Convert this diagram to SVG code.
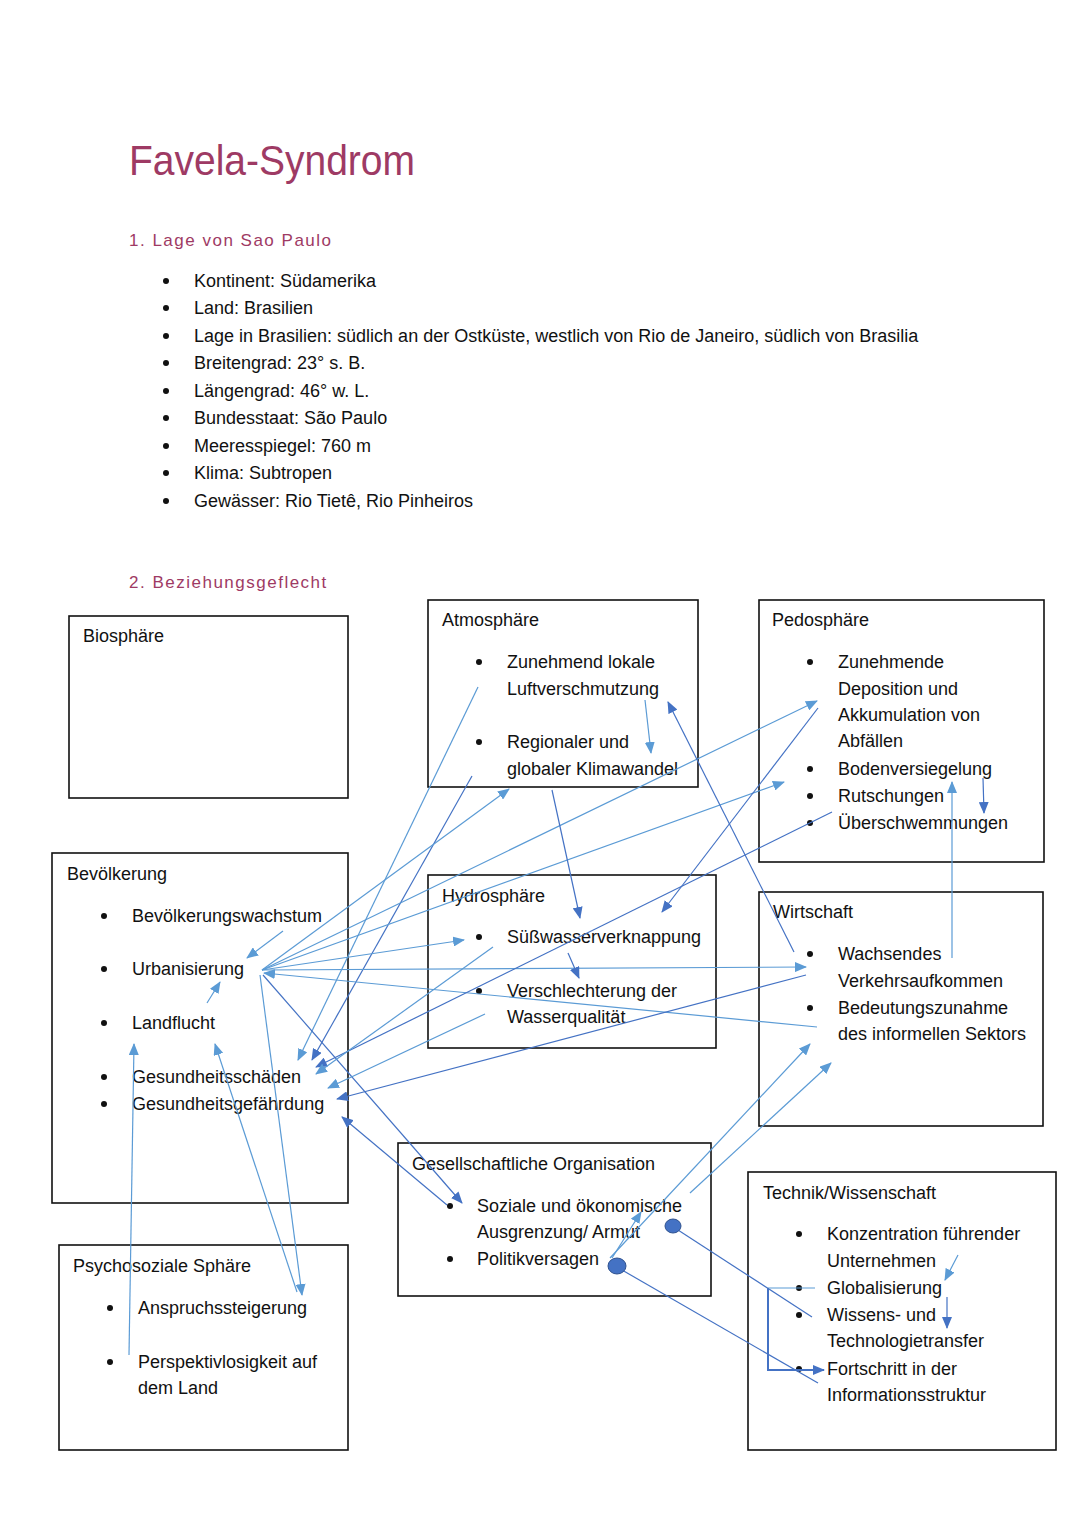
<svg xmlns="http://www.w3.org/2000/svg" width="1080" height="1527" viewBox="0 0 1080 1527">
<style>
text{font-family:"Liberation Sans",Arial,sans-serif;font-size:18px;fill:#111}
.title{font-size:42px;fill:#9E3A64}
.h{font-size:17px;fill:#9E3A64;letter-spacing:1.5px}
.box{fill:#fff;stroke:#111;stroke-width:1.6}
.b{fill:#111}
.c{fill:none;stroke:#5B9BD5;stroke-width:1.2}
.d{fill:none;stroke:#4472C4;stroke-width:1.2}
.a1{marker-end:url(#ml)}
.a2{marker-end:url(#md)}
.dot{fill:#4472C4;stroke:#2F528F;stroke-width:1}
</style>
<defs>
<marker id="ml" markerUnits="userSpaceOnUse" markerWidth="12" markerHeight="10" refX="11" refY="5" orient="auto"><path d="M0,0 L12,5 L0,10 z" fill="#5B9BD5"/></marker>
<marker id="md" markerUnits="userSpaceOnUse" markerWidth="12" markerHeight="10" refX="11" refY="5" orient="auto"><path d="M0,0 L12,5 L0,10 z" fill="#4472C4"/></marker>
</defs>
<rect width="1080" height="1527" fill="#fff"/>
<g id="header">
<text class="title" x="129" y="175" textLength="286" lengthAdjust="spacingAndGlyphs">Favela-Syndrom</text>
<text class="h" x="129" y="246">1. Lage von Sao Paulo</text>
<g class="b"><circle cx="166" cy="281" r="3"/><circle cx="166" cy="308" r="3"/><circle cx="166" cy="336" r="3"/><circle cx="166" cy="363" r="3"/><circle cx="166" cy="391" r="3"/><circle cx="166" cy="418" r="3"/><circle cx="166" cy="446" r="3"/><circle cx="166" cy="473" r="3"/><circle cx="166" cy="501" r="3"/></g>
<text x="194" y="287">Kontinent: Südamerika</text>
<text x="194" y="314">Land: Brasilien</text>
<text x="194" y="342">Lage in Brasilien: südlich an der Ostküste, westlich von Rio de Janeiro, südlich von Brasilia</text>
<text x="194" y="369">Breitengrad: 23° s. B.</text>
<text x="194" y="397">Längengrad: 46° w. L.</text>
<text x="194" y="424">Bundesstaat: São Paulo</text>
<text x="194" y="452">Meeresspiegel: 760 m</text>
<text x="194" y="479">Klima: Subtropen</text>
<text x="194" y="507">Gewässer: Rio Tietê, Rio Pinheiros</text>
<text class="h" x="129" y="588">2. Beziehungsgeflecht</text>
</g>
<g id="biosphaere">
<rect class="box" x="69" y="616" width="279" height="182"/>
<text x="83" y="642">Biosphäre</text>
</g>
<g id="atmosphaere">
<rect class="box" x="428" y="600" width="270" height="187"/>
<text x="442" y="626">Atmosphäre</text>
<circle class="b" cx="479" cy="662" r="3"/><circle class="b" cx="479" cy="742" r="3"/>
<text x="507" y="668">Zunehmend lokale</text>
<text x="507" y="695">Luftverschmutzung</text>
<text x="507" y="748">Regionaler und</text>
<text x="507" y="775">globaler Klimawandel</text>
</g>
<g id="pedosphaere">
<rect class="box" x="759" y="600" width="285" height="262"/>
<text x="772" y="626">Pedosphäre</text>
<circle class="b" cx="810" cy="662" r="3"/><circle class="b" cx="810" cy="769" r="3"/><circle class="b" cx="810" cy="796" r="3"/><circle class="b" cx="810" cy="823" r="3"/>
<text x="838" y="668">Zunehmende</text>
<text x="838" y="695">Deposition und</text>
<text x="838" y="721">Akkumulation von</text>
<text x="838" y="747">Abfällen</text>
<text x="838" y="775">Bodenversiegelung</text>
<text x="838" y="802">Rutschungen</text>
<text x="838" y="829">Überschwemmungen</text>
</g>
<g id="bevoelkerung">
<rect class="box" x="52" y="853" width="296" height="350"/>
<text x="67" y="880">Bevölkerung</text>
<circle class="b" cx="104" cy="916" r="3"/><circle class="b" cx="104" cy="969" r="3"/><circle class="b" cx="104" cy="1023" r="3"/><circle class="b" cx="104" cy="1077" r="3"/><circle class="b" cx="104" cy="1104" r="3"/>
<text x="132" y="922">Bevölkerungswachstum</text>
<text x="132" y="975">Urbanisierung</text>
<text x="132" y="1029">Landflucht</text>
<text x="132" y="1083">Gesundheitsschäden</text>
<text x="132" y="1110">Gesundheitsgefährdung</text>
</g>
<g id="hydrosphaere">
<rect class="box" x="428" y="875" width="288" height="173"/>
<text x="442" y="902">Hydrosphäre</text>
<circle class="b" cx="479" cy="937" r="3"/><circle class="b" cx="479" cy="991" r="3"/>
<text x="507" y="943">Süßwasserverknappung</text>
<text x="507" y="997">Verschlechterung der</text>
<text x="507" y="1023">Wasserqualität</text>
</g>
<g id="wirtschaft">
<rect class="box" x="759" y="892" width="284" height="234"/>
<text x="773" y="918">Wirtschaft</text>
<circle class="b" cx="810" cy="954" r="3"/><circle class="b" cx="810" cy="1008" r="3"/>
<text x="838" y="960">Wachsendes</text>
<text x="838" y="987">Verkehrsaufkommen</text>
<text x="838" y="1014">Bedeutungszunahme</text>
<text x="838" y="1040">des informellen Sektors</text>
</g>
<g id="gesellschaft">
<rect class="box" x="398" y="1143" width="313" height="153"/>
<text x="412" y="1170">Gesellschaftliche Organisation</text>
<circle class="b" cx="450" cy="1206" r="3"/><circle class="b" cx="450" cy="1259" r="3"/>
<text x="477" y="1212">Soziale und ökonomische</text>
<text x="477" y="1238">Ausgrenzung/ Armut</text>
<text x="477" y="1265">Politikversagen</text>
</g>
<g id="technik">
<rect class="box" x="748" y="1172" width="308" height="278"/>
<text x="763" y="1199">Technik/Wissenschaft</text>
<circle class="b" cx="799" cy="1234" r="3"/><circle class="b" cx="799" cy="1288" r="3"/><circle class="b" cx="799" cy="1315" r="3"/><circle class="b" cx="799" cy="1369" r="3"/>
<text x="827" y="1240">Konzentration führender</text>
<text x="827" y="1267">Unternehmen</text>
<text x="827" y="1294">Globalisierung</text>
<text x="827" y="1321">Wissens- und</text>
<text x="827" y="1347">Technologietransfer</text>
<text x="827" y="1375">Fortschritt in der</text>
<text x="827" y="1401">Informationsstruktur</text>
</g>
<g id="psychosozial">
<rect class="box" x="59" y="1245" width="289" height="205"/>
<text x="73" y="1272">Psychosoziale Sphäre</text>
<circle class="b" cx="110" cy="1308" r="3"/><circle class="b" cx="110" cy="1362" r="3"/>
<text x="138" y="1314">Anspruchssteigerung</text>
<text x="138" y="1368">Perspektivlosigkeit auf</text>
<text x="138" y="1394">dem Land</text>
</g>
<g id="connectors">
<line class="c a1" x1="283" y1="931" x2="247" y2="958"/>
<line class="c a1" x1="207" y1="1003" x2="220" y2="982"/>
<line class="c a1" x1="478" y1="687" x2="298" y2="1060"/>
<line class="d a2" x1="472" y1="776" x2="312" y2="1060"/>
<line class="c a1" x1="262" y1="970" x2="509" y2="789"/>
<line class="c a1" x1="262" y1="970" x2="817" y2="701"/>
<line class="c a1" x1="262" y1="970" x2="784" y2="782"/>
<line class="c a1" x1="262" y1="970" x2="464" y2="940"/>
<line class="c a1" x1="262" y1="970" x2="806" y2="967"/>
<line class="c a1" x1="817" y1="1027" x2="264" y2="973"/>
<line class="d a2" x1="263" y1="975" x2="462" y2="1203"/>
<line class="c a1" x1="260" y1="975" x2="302" y2="1295"/>
<line class="c a1" x1="297" y1="1292" x2="215" y2="1044"/>
<line class="c a1" x1="129" y1="1355" x2="134" y2="1044"/>
<line class="d a2" x1="552" y1="790" x2="580" y2="918"/>
<line class="c a1" x1="645" y1="700" x2="651" y2="753"/>
<line class="d a2" x1="794" y1="952" x2="668" y2="702"/>
<line class="d a2" x1="818" y1="708" x2="662" y2="912"/>
<line class="d a2" x1="832" y1="812" x2="316" y2="1067"/>
<line class="c a1" x1="493" y1="947" x2="316" y2="1074"/>
<line class="c a1" x1="485" y1="1014" x2="328" y2="1088"/>
<line class="d a2" x1="806" y1="975" x2="337" y2="1099"/>
<line class="d a2" x1="447" y1="1205" x2="342" y2="1117"/>
<line class="d a2" x1="568" y1="953" x2="579" y2="978"/>
<line class="c a1" x1="952" y1="958" x2="952" y2="782"/>
<line class="d a2" x1="983" y1="778" x2="984" y2="813"/>
<line class="c a1" x1="610" y1="1258" x2="810" y2="1044"/>
<line class="c a1" x1="690" y1="1193" x2="831" y2="1063"/>
<line class="c a1" x1="612" y1="1258" x2="641" y2="1212"/>
<line class="d" x1="678" y1="1230" x2="812" y2="1317"/>
<line class="d" x1="622" y1="1270" x2="818" y2="1383"/>
<line class="c a1" x1="958" y1="1255" x2="945" y2="1280"/>
<line class="d a2" x1="947" y1="1297" x2="947" y2="1328"/>
<line class="c" x1="768" y1="1288" x2="815" y2="1288"/>
<polyline class="d a2" style="stroke-width:2" points="768,1288 768,1370 824,1370"/>
<ellipse class="dot" cx="673" cy="1226" rx="8" ry="7"/>
<ellipse class="dot" cx="617" cy="1266" rx="9" ry="8"/>
</g>
</svg>
